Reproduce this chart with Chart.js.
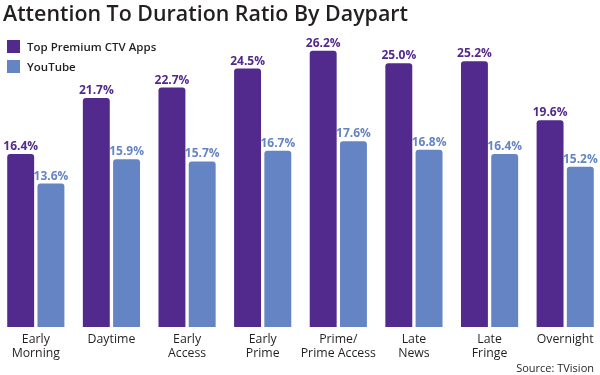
<!DOCTYPE html>
<html><head><meta charset="utf-8">
<script src="https://cdn.jsdelivr.net/npm/chart.js@4/dist/chart.umd.min.js"></script>
<style>
html,body{margin:0;padding:0;background:#fff;}
#wrap{position:relative;width:600px;height:375px;overflow:hidden;font-family:"Open Sans",sans-serif;}
#c{position:absolute;left:-2px;top:0;}
#title{position:absolute;left:3px;top:0px;font-size:21.4px;line-height:26px;font-weight:600;color:#231f20;white-space:nowrap;}
.lg{position:absolute;left:7px;font-size:11.5px;line-height:14px;font-weight:600;color:#231f20;white-space:nowrap;}
.lg span{display:inline-block;width:13px;height:13px;vertical-align:-2px;margin-right:7px;}
#src{position:absolute;right:6px;top:360px;font-size:11px;color:#231f20;}
</style></head>
<body><div id="wrap">
<canvas id="c" width="605" height="375"></canvas>
<div id="title">Attention To Duration Ratio By Daypart</div>
<div class="lg" style="top:40px"><span style="background:#52298d"></span>Top Premium CTV Apps</div>
<div class="lg" style="top:60px"><span style="background:#6584c4"></span>YouTube</div>
<div id="src">Source: TVision</div>
</div>
<script>
const categories = [["Early","Morning"],"Daytime",["Early","Access"],["Early","Prime"],["Prime/","Prime Access"],["Late","News"],["Late","Fringe"],"Overnight"];
const ctvApps = [16.4,21.7,22.7,24.5,26.2,25.0,25.2,19.6];
const youtube = [13.6,15.9,15.7,16.7,17.6,16.8,16.4,15.2];
const seriesNames = ["Top Premium CTV Apps","YouTube"];
const colors = ["#52298d","#6584c4"];

const valueLabels = {
  id:'valueLabels',
  afterDatasetsDraw(chart){
    const ctx = chart.ctx;
    ctx.save();
    ctx.font = 'bold 12px "Liberation Sans Narrow","Open Sans",sans-serif';
    ctx.textAlign = 'center';
    ctx.textBaseline = 'alphabetic';
    chart.data.datasets.forEach((ds,i)=>{
      const meta = chart.getDatasetMeta(i);
      ctx.fillStyle = ds.backgroundColor;
      meta.data.forEach((bar,j)=>{
        ctx.fillText(ds.data[j].toFixed(1)+'%', bar.x, bar.y-4);
      });
    });
    ctx.restore();
  }
};

new Chart(document.getElementById('c'),{
  type:'bar',
  data:{
    labels:categories,
    datasets:[
      {label:seriesNames[0],data:ctvApps,backgroundColor:colors[0],borderRadius:{topLeft:3,topRight:3},borderSkipped:'bottom',categoryPercentage:0.8,barPercentage:0.89},
      {label:seriesNames[1],data:youtube,backgroundColor:colors[1],borderRadius:{topLeft:3,topRight:3},borderSkipped:'bottom',categoryPercentage:0.8,barPercentage:0.89}
    ]
  },
  options:{
    responsive:false,
    animation:false,
    layout:{padding:0},
    plugins:{legend:{display:false},tooltip:{enabled:false}},
    scales:{
      y:{display:false,min:0,max:31},
      x:{
        grid:{display:false,drawTicks:false,tickLength:0},
        border:{display:false},
        ticks:{color:'#231f20',padding:6,font:{family:'"Open Sans",sans-serif',size:12.3,lineHeight:1.1},maxRotation:0,autoSkip:false},
        afterFit(scale){scale.height=48;}
      }
    }
  },
  plugins:[valueLabels]
});
</script>
</body></html>
